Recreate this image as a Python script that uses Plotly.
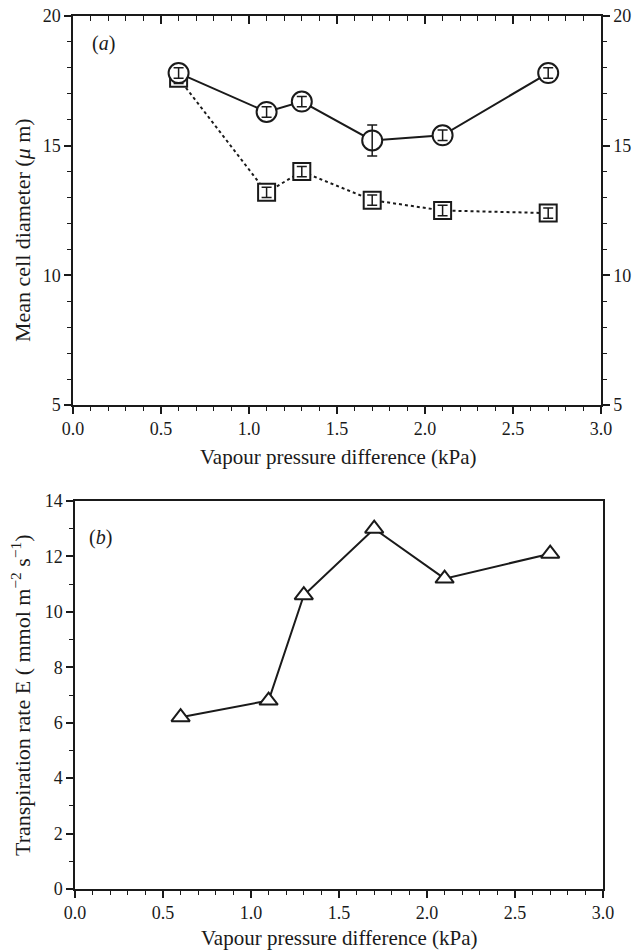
import plotly.graph_objects as go

vpd = [0.6, 1.1, 1.3, 1.7, 2.1, 2.7]
diam_circle = [17.8, 16.3, 16.7, 15.2, 15.4, 17.8]
diam_circle_err = [0.2, 0.2, 0.2, 0.6, 0.2, 0.2]
diam_square = [17.6, 13.2, 14.0, 12.9, 12.5, 12.4]
diam_square_err = [0.2, 0.2, 0.2, 0.2, 0.2, 0.2]
transp = [6.2, 6.8, 10.6, 13.0, 11.2, 12.1]

x_ticks = [0.0, 0.5, 1.0, 1.5, 2.0, 2.5, 3.0]
x_ticklabels = ["0.0", "0.5", "1.0", "1.5", "2.0", "2.5", "3.0"]

x_title = "Vapour pressure difference (kPa)"
ya_title = "Mean cell diameter (<i>μ</i> m)"
yb_title = "Transpiration rate E ( mmol m<sup>−2</sup> s<sup>−1</sup>)"

FONT = "Liberation Serif"
BLK = "#1a1a1a"
W, H = 634, 951


def px_x(p):
    return p / W


def px_y(p):
    return 1 - p / H


fig = go.Figure()

# Panel (a): squares (dotted)
fig.add_trace(go.Scatter(x=vpd, y=diam_square, mode="lines+markers",
                         line=dict(color=BLK, width=2, dash="dot"),
                         marker=dict(symbol="square", size=17, color="white",
                                     line=dict(color=BLK, width=2)),
                         xaxis="x", yaxis="y", showlegend=False))
fig.add_trace(go.Scatter(x=vpd, y=diam_square, mode="markers",
                         marker=dict(size=1, color="rgba(0,0,0,0)"),
                         error_y=dict(type="data", array=diam_square_err, color=BLK,
                                      thickness=1.5, width=5),
                         xaxis="x", yaxis="y", showlegend=False))
# Panel (a): circles (solid)
fig.add_trace(go.Scatter(x=vpd, y=diam_circle, mode="lines+markers",
                         line=dict(color=BLK, width=2),
                         marker=dict(symbol="circle", size=20, color="white",
                                     line=dict(color=BLK, width=2)),
                         xaxis="x", yaxis="y", showlegend=False))
fig.add_trace(go.Scatter(x=vpd, y=diam_circle, mode="markers",
                         marker=dict(size=1, color="rgba(0,0,0,0)"),
                         error_y=dict(type="data", array=diam_circle_err, color=BLK,
                                      thickness=1.5, width=5),
                         xaxis="x", yaxis="y", showlegend=False))
# Panel (b): triangles
fig.add_trace(go.Scatter(x=vpd, y=transp, mode="lines+markers",
                         line=dict(color=BLK, width=2),
                         marker=dict(symbol="triangle-up", size=16, color="white",
                                     line=dict(color=BLK, width=2)),
                         xaxis="x2", yaxis="y4", showlegend=False))
# dummy trace so the mirrored top/right axes of panel (a) are rendered
fig.add_trace(go.Scatter(x=[None], y=[None], xaxis="x3", yaxis="y2", showlegend=False,
                         hoverinfo="skip"))

tickfont = dict(family=FONT, size=18, color=BLK)

dom_a_x = [px_x(73), px_x(601)]
dom_a_y = [px_y(405), px_y(16)]
dom_b_x = [px_x(75), px_x(603)]
dom_b_y = [px_y(889), px_y(501)]

common_x = dict(range=[0, 3], tickvals=x_ticks, ticktext=x_ticklabels,
                showline=True, linecolor=BLK, linewidth=1.5, showgrid=False,
                zeroline=False, ticks="outside", ticklen=7, tickwidth=1.5,
                tickcolor=BLK, tickfont=tickfont, automargin=False,
                ticklabeloverflow="allow",
                minor=dict(dtick=0.1, ticks="outside", ticklen=4, tickwidth=1.2,
                           tickcolor=BLK, showgrid=False))

ann_common = dict(xref="paper", yref="paper", showarrow=False,
                  xanchor="center", yanchor="middle")

fig.update_layout(
    width=W, height=H, margin=dict(l=0, r=0, t=0, b=0),
    paper_bgcolor="white", plot_bgcolor="white",
    xaxis=dict(domain=dom_a_x, anchor="y", **common_x),
    xaxis3=dict(domain=dom_a_x, anchor="y", overlaying="x", side="top", matches="x",
                range=[0, 3], tickvals=x_ticks, showticklabels=False,
                showline=True, linecolor=BLK, linewidth=1.5, showgrid=False, zeroline=False,
                ticks="inside", ticklen=8, tickwidth=1.5, tickcolor=BLK,
                minor=dict(dtick=0.1, ticks="inside", ticklen=5, tickwidth=1.2,
                           tickcolor=BLK, showgrid=False)),
    yaxis=dict(domain=dom_a_y, anchor="x", range=[5, 20], tickvals=[5, 10, 15, 20],
               showline=True, linecolor=BLK, linewidth=1.5, showgrid=False, zeroline=False,
               ticks="outside", ticklen=7, tickwidth=1.5, tickcolor=BLK, tickfont=tickfont,
               automargin=False, ticklabeloverflow="allow",
               minor=dict(dtick=1, ticks="outside", ticklen=4, tickwidth=1.2,
                          tickcolor=BLK, showgrid=False)),
    yaxis2=dict(domain=dom_a_y, anchor="x", overlaying="y", side="right", matches="y",
                range=[5, 20], tickvals=[5, 10, 15, 20],
                showline=True, linecolor=BLK, linewidth=1.5, showgrid=False, zeroline=False,
                ticks="outside", ticklen=7, tickwidth=1.5, tickcolor=BLK, tickfont=tickfont,
                automargin=False, ticklabeloverflow="allow",
                minor=dict(dtick=1, ticks="outside", ticklen=4, tickwidth=1.2,
                           tickcolor=BLK, showgrid=False)),
    xaxis2=dict(domain=dom_b_x, anchor="y4", mirror=True, **common_x),
    yaxis4=dict(domain=dom_b_y, anchor="x2", range=[0, 14], tickvals=[0, 2, 4, 6, 8, 10, 12, 14],
                showline=True, mirror=True, linecolor=BLK, linewidth=1.5, showgrid=False,
                zeroline=False, ticks="outside", ticklen=7, tickwidth=1.5, tickcolor=BLK,
                tickfont=tickfont, automargin=False, ticklabeloverflow="allow",
                minor=dict(dtick=1, ticks="outside", ticklen=4, tickwidth=1.2,
                           tickcolor=BLK, showgrid=False)),
    annotations=[
        dict(text=x_title, x=px_x(338), y=px_y(457),
             font=dict(family=FONT, size=21, color=BLK), **ann_common),
        dict(text=x_title, x=px_x(339), y=px_y(938),
             font=dict(family=FONT, size=21, color=BLK), **ann_common),
        dict(text=ya_title, x=px_x(22), y=px_y(230), textangle=-90,
             font=dict(family=FONT, size=22, color=BLK), **ann_common),
        dict(text=yb_title, x=px_x(21), y=px_y(695), textangle=-90,
             font=dict(family=FONT, size=22, color=BLK), **ann_common),
        dict(text="(<i>a</i>)", x=px_x(103.5), y=px_y(43),
             font=dict(family=FONT, size=20, color=BLK), **ann_common),
        dict(text="(<i>b</i>)", x=px_x(100.7), y=px_y(537),
             font=dict(family=FONT, size=20, color=BLK), **ann_common),
    ],
)

fig.write_html("out.html", config={"displayModeBar": False},
               post_script="document.body.style.margin='0px';")
